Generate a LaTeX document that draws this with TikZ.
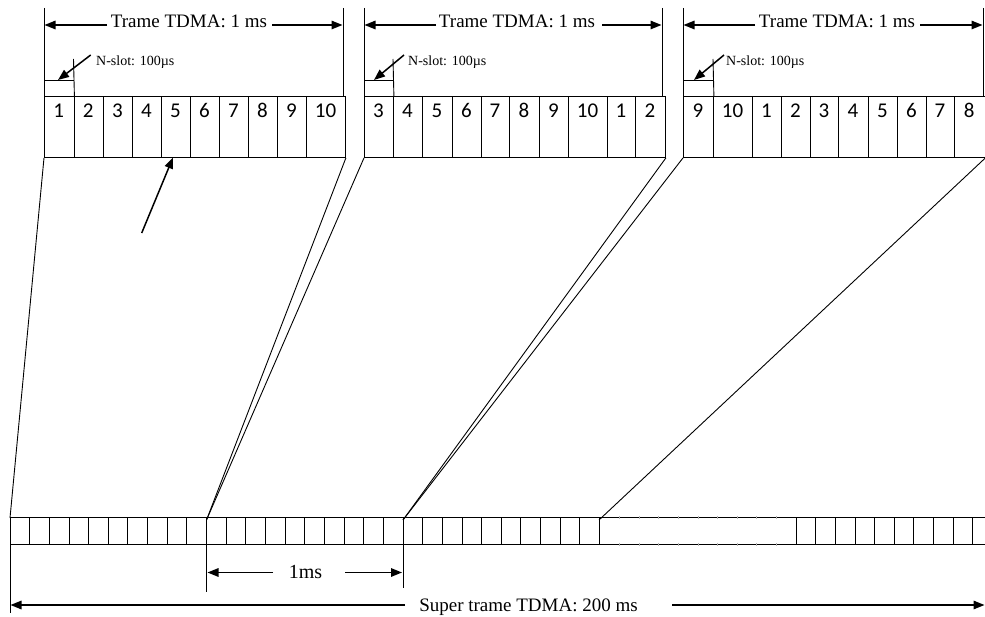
\documentclass[tikz,border=0pt]{standalone}
\usepackage{fontspec}
\setmainfont{Liberation Serif}
\newfontfamily\slotfont{Carlito}
\usetikzlibrary{arrows.meta}
\begin{document}
\begin{tikzpicture}[x=1pt,y=-1pt,
  thin line/.style={line width=0.9pt},
  slotbox/.style={draw, line width=0.9pt, rectangle, inner sep=0pt, minimum height=61pt, anchor=north west},
  slotnum/.style={font=\slotfont\fontsize{21}{21}\selectfont, anchor=center, inner sep=0pt},
  arr/.style={line width=1.5pt, -{Triangle[length=11pt,width=8.5pt]}},
  title/.style={font=\fontsize{19}{19}\selectfont, inner sep=0pt, anchor=base},
  small/.style={font=\fontsize{14}{14}\selectfont, inner sep=0pt, anchor=base west},
  cellline/.style={line width=0.9pt},
  tick/.style={line width=0.5pt, gray!60}]
\useasboundingbox (0,0) rectangle (985,617);

% ---------- top frames ----------
\foreach \a/\b/\t [count=\i] in {44/73.5/1,73.5/103/2,103/132/3,132/161/4,161/190/5,190/219/6,219/248/7,248/277/8,277/306/9,306/345/10}{
  \pgfmathsetmacro\w{\b-\a}
  \node[slotbox, minimum width=\w pt] (fa\i) at (\a,96) {};
  \node[slotnum] (fat\i) at ({(\a+\b)/2},110.5) {\t};
}
\foreach \a/\b/\t [count=\i] in {364/393/3,393/422/4,422/452/5,452/481/6,481/509/7,509/539/8,539/568/9,568/607/10,607/635/1,635/665/2}{
  \pgfmathsetmacro\w{\b-\a}
  \node[slotbox, minimum width=\w pt] (fb\i) at (\a,96) {};
  \node[slotnum] (fbt\i) at ({(\a+\b)/2},110.5) {\t};
}
\foreach \a/\b/\t [count=\i] in {683/713/9,713/752/10,752/781/1,781/810/2,810/838/3,838/868/4,868/897/5,897/926/6,926/954/7,954/984.5/8}{
  \pgfmathsetmacro\w{\b-\a}
  \node[slotbox, minimum width=\w pt] (fc\i) at (\a,96) {};
  \node[slotnum] (fct\i) at ({(\a+\b)/2},110.5) {\t};
}

% frame-width markers
\coordinate (a1t) at (44,8);   \coordinate (a2t) at (343,8);
\coordinate (b1t) at (364,8);  \coordinate (b2t) at (662,8);
\coordinate (c1t) at (683,8);  \coordinate (c2t) at (983,8);
\draw[thin line] (a1t) -- (fa1.north west);
\draw[thin line] (a2t) -- (343,96);
\draw[thin line] (b1t) -- (fb1.north west);
\draw[thin line] (b2t) -- (662,96);
\draw[thin line] (c1t) -- (fc1.north west);
\draw[thin line] (c2t) -- (983,96);

\node[title] (ta) at (189,27.5) {Trame TDMA: 1 ms};
\node[title] (tb) at (517,27.5) {Trame TDMA: 1 ms};
\node[title] (tc) at (837,27.5) {Trame TDMA: 1 ms};
\draw[arr] (107,25) -- (44.5,25);
\draw[arr] (272,25) -- (342.5,25);
\draw[arr] (436,25) -- (364.5,25);
\draw[arr] (602,25) -- (661.5,25);
\draw[arr] (755,25) -- (683.5,25);
\draw[arr] (920,25) -- (982.5,25);

% N-slot markers
\draw[thin line] (44,80) -- (73.5,80);  \draw[thin line] (73.5,59) -- (fa1.north east);
\draw[thin line] (364,80) -- (393,80);  \draw[thin line] (393,59) -- (fb1.north east);
\draw[thin line] (683,80) -- (713,80);  \draw[thin line] (713,59) -- (fc1.north east);
\node[small] (na) at (96,66) {N-slot: 100µs};
\node[small] (nb) at (408,66) {N-slot: 100µs};
\node[small] (nc) at (726,66) {N-slot: 100µs};
\draw[arr] (90.7,55) -- (58,80);
\draw[arr] (404,55) -- (374,80);
\draw[arr] (724,55) -- (694,80);

% arrow pointing at slot 5
\coordinate (ptr) at (141.7,233);
\draw[arr] (ptr) -- (173,157.5);

% ---------- super frame strip ----------
\draw[cellline] (10,517) -- (985,517);
\draw[cellline] (10,544.3) -- (985,544.3);
\foreach \k in {0,...,30,40,41,...,49}{
  \draw[cellline] ({10+19.65*\k},517) -- ({10+19.65*\k},544.3);
}
\foreach \k in {31,...,39}{
  \draw[tick] ({10+19.65*\k},516) -- ({10+19.65*\k},519);
  \draw[tick] ({10+19.65*\k},542.5) -- ({10+19.65*\k},546);
}
\coordinate (s0) at (10,518);
\coordinate (s10) at (206.5,520);
\coordinate (s20) at (403,520);
\coordinate (s30) at (599,520);

% zoom connectors
\draw[thin line] (fa1.south west) -- (s0);
\draw[thin line] (fa10.south east) -- (s10);
\draw[thin line] (fb1.south west) -- (s10);
\draw[thin line] (fb10.south east) -- (s20);
\draw[thin line] (fc1.south west) -- (s20);
\draw[thin line] (fc10.south east) -- (s30);

% ---------- bottom dimensions ----------
\coordinate (v0b) at (10,613);
\coordinate (v1a) at (206.5,544); \coordinate (v1b) at (206.5,592);
\coordinate (v2a) at (403,544);   \coordinate (v2b) at (403,588);
\draw[thin line] (s0) -- (v0b);
\draw[thin line] (v1a) -- (v1b);
\draw[thin line] (v2a) -- (v2b);

\node[font=\fontsize{20}{20}\selectfont, inner sep=0pt, anchor=base] (ms) at (305.5,578) {1ms};
\draw[arr] (273,572.5) -- (207.5,572.5);
\draw[arr] (345,572.5) -- (402,572.5);

\node[title] (sup) at (528.5,611) {Super trame TDMA: 200 ms};
\draw[arr] (405,605) -- (10.5,605);
\draw[arr] (672,605) -- (984.5,605);
\end{tikzpicture}
\end{document}
